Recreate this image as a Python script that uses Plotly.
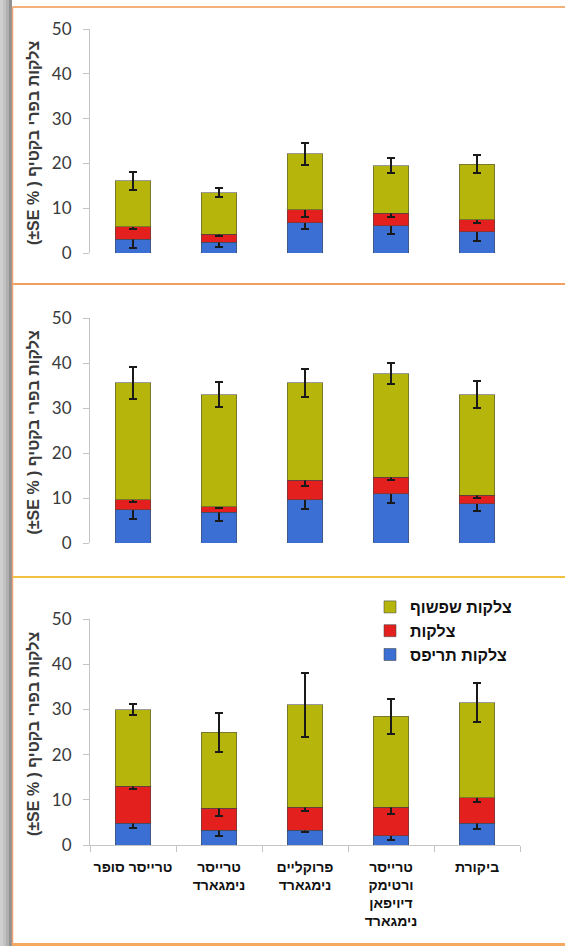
import plotly.graph_objects as go

W, H = 565, 946

categories = [
    "טרייסר סופר",
    "טרייסר<br>נימגארד",
    "פרוקליים<br>נימגארד",
    "טרייסר<br>ורטימק<br>דיויפאן<br>נימגארד",
    "ביקורת",
]
series_names = ["צלקות תריפס", "צלקות", "צלקות שפשוף"]
y_title = "(±SE % ) צלקות בפרי בקטיף"
y_ticks = [0, 10, 20, 30, 40, 50]

# panel 1
p1_thrips = [3.1, 2.4, 6.7, 6.1, 4.7]
p1_scar = [2.8, 1.8, 3.0, 2.8, 2.7]
p1_rub = [10.2, 9.3, 12.4, 10.6, 12.4]
p1_thrips_se = [2.0, 1.1, 1.3, 1.8, 2.1]
p1_scar_se = [0.6, 0.5, 1.6, 0.8, 0.6]
p1_rub_se = [2.0, 1.0, 2.5, 1.6, 2.0]

# panel 2
p2_thrips = [7.4, 6.8, 9.6, 10.9, 8.7]
p2_scar = [2.2, 1.3, 4.3, 3.7, 1.9]
p2_rub = [26.0, 24.9, 21.7, 23.0, 22.4]
p2_thrips_se = [2.0, 2.0, 2.0, 2.0, 1.5]
p2_scar_se = [0.5, 0.3, 1.3, 0.5, 0.7]
p2_rub_se = [3.5, 2.7, 3.1, 2.3, 2.9]

# panel 3
p3_thrips = [4.8, 3.3, 3.3, 2.1, 4.8]
p3_scar = [8.2, 4.8, 5.0, 6.2, 5.7]
p3_rub = [16.9, 16.8, 22.7, 20.2, 21.0]
p3_thrips_se = [1.0, 1.4, 0.5, 0.9, 1.2]
p3_scar_se = [0.7, 1.7, 0.8, 1.5, 0.9]
p3_rub_se = [1.2, 4.3, 7.0, 3.9, 4.3]

panels = [
    (p1_thrips, p1_scar, p1_rub, p1_thrips_se, p1_scar_se, p1_rub_se),
    (p2_thrips, p2_scar, p2_rub, p2_thrips_se, p2_scar_se, p2_rub_se),
    (p3_thrips, p3_scar, p3_rub, p3_thrips_se, p3_scar_se, p3_rub_se),
]
colors = ["#3b6fd3", "#e3201e", "#b6b50c"]

def px(x):
    return x / W

def py(y):
    return 1 - y / H

fig = go.Figure()
# y pixel positions (value 0, value 50) for each panel
ypix = [(253, 29), (543, 318), (845, 619)]
xdom = [px(90), px(520)]

for i, data in enumerate(panels):
    vals = data[:3]
    ses = data[3:]
    suffix = "" if i == 0 else str(i + 1)
    for k in range(3):
        fig.add_trace(go.Bar(
            x=categories, y=vals[k], name="<b>" + series_names[k] + "</b>",
            marker=dict(color=colors[k], line=dict(color="rgba(70,70,70,0.55)", width=1)),
            error_y=dict(type="data", array=ses[k], color="#1a1a1a", thickness=2, width=4),
            xaxis="x" + suffix, yaxis="y" + suffix,
            showlegend=(i == 2), legendgroup=series_names[k],
        ))

layout = dict(
    width=W, height=H, margin=dict(l=0, r=0, t=0, b=0, pad=0, autoexpand=False),
    paper_bgcolor="white", plot_bgcolor="white",
    barmode="stack", bargap=0.59,
    legend=dict(x=px(370), y=py(590), xanchor="left", yanchor="top",
                traceorder="reversed", tracegroupgap=9,
                font=dict(family="Liberation Sans", size=16, color="#111"),
                bgcolor="rgba(0,0,0,0)"),
    showlegend=True,
)

for i in range(3):
    suffix = "" if i == 0 else str(i + 1)
    y0, y1 = ypix[i]
    last = (i == 2)
    layout["xaxis" + suffix] = dict(
        domain=xdom, anchor="y" + suffix, range=[-0.5, 4.5],
        showline=last, linecolor="#c4c4c4", linewidth=1,
        ticks="outside" if last else "", tickson="boundaries", ticklen=6, tickcolor="#c4c4c4",
        showticklabels=last, showgrid=False, zeroline=False,
        tickfont=dict(family="Liberation Sans", size=14, color="#111"),
        ticklabelstandoff=9, tickangle=0, automargin=False,
        tickvals=categories if last else None,
        ticktext=["<b>" + c.replace("<br>", "</b><br><b>") + "</b>" for c in categories] if last else None,
        fixedrange=True,
    )
    layout["yaxis" + suffix] = dict(
        domain=[py(y0), py(y1)], anchor="x" + suffix, range=[0, 50],
        tickvals=y_ticks, showline=True, linecolor="#c4c4c4", linewidth=1,
        ticks="outside", ticklen=6, tickcolor="#c4c4c4",
        showgrid=False, zeroline=False, ticklabelstandoff=8, automargin=False,
        tickfont=dict(family="Lato", size=17, color="#3a3a3a"),
        fixedrange=True,
    )

fig.update_layout(**layout)

# y titles
for i in range(3):
    y0, y1 = ypix[i]
    fig.add_annotation(
        x=px(33), y=py((y0 + y1) / 2 + 2), xref="paper", yref="paper",
        text="<b>" + y_title + "</b>", textangle=-90, showarrow=False,
        font=dict(family="Liberation Sans", size=16, color="#3a3a3a"),
        xanchor="center", yanchor="middle",
    )

# frame: left shadow and orange borders
shades = [(0, 3, "#cfcfcf"), (3, 6, "#c2c2c2"), (6, 9, "#b0b0b0"), (9, 12, "#919191")]
for a, b, c in shades:
    fig.add_shape(type="rect", xref="paper", yref="paper", x0=px(a), x1=px(b), y0=0, y1=1,
                  fillcolor=c, line=dict(width=0), layer="below")
fig.add_shape(type="line", xref="paper", yref="paper", x0=px(12.5), x1=px(12.5), y0=py(946), y1=py(7),
              line=dict(color="#e9a27a", width=1.5))
fig.add_shape(type="line", xref="paper", yref="paper", x0=px(12.5), x1=1, y0=py(7), y1=py(7),
              line=dict(color="#f2b07a", width=2))
fig.add_shape(type="line", xref="paper", yref="paper", x0=px(12.5), x1=1, y0=py(284), y1=py(284),
              line=dict(color="#f0a060", width=2))
fig.add_shape(type="line", xref="paper", yref="paper", x0=px(12.5), x1=1, y0=py(577), y1=py(577),
              line=dict(color="#f2c040", width=2))
fig.add_shape(type="rect", xref="paper", yref="paper", x0=px(12.5), x1=1, y0=0, y1=py(943),
              fillcolor="#f5a860", line=dict(width=0))

post = (
    "document.documentElement.style.margin='0';"
    "document.documentElement.style.padding='0';"
    "document.documentElement.style.overflow='hidden';"
    "document.body.style.margin='0';"
    "document.body.style.padding='0';"
    "document.body.style.overflow='hidden';"
    "var gd=document.getElementById('{plot_id}');"
    "gd.style.position='absolute';gd.style.left='0px';gd.style.top='0px';"
)
fig.write_html("out.html", config={"displayModeBar": False}, post_script=post)
